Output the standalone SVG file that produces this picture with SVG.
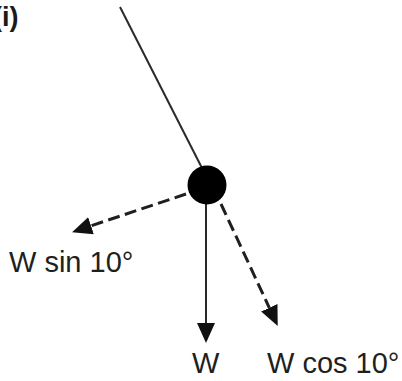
<svg xmlns="http://www.w3.org/2000/svg" width="402" height="381" viewBox="0 0 402 381">
  <style>
    .lbl { font-family: "Liberation Sans", Arial, sans-serif; font-size: 29px; fill: #1f1f1f; }
    .title { font-family: "Liberation Sans", Arial, sans-serif; font-size: 27px; font-weight: bold; fill: #1a1a1a; }
    .solid { stroke: #2a2a2a; stroke-width: 2; fill: none; }
    .dashed { stroke: #1f1f1f; stroke-width: 3; fill: none; stroke-dasharray: 12 5.5; }
  </style>
  <defs>
    <marker id="arrow" viewBox="0 0 20 18" refX="0" refY="9" markerWidth="20" markerHeight="18" markerUnits="userSpaceOnUse" orient="auto">
      <path d="M0,0 L20,9 L0,18 Z" fill="#111"/>
    </marker>
  </defs>
  <rect width="402" height="381" fill="#ffffff"/>
  <text class="title" x="-7" y="26">(i)</text>
  <g id="connectors">
    <line id="string" class="solid" x1="120" y1="7" x2="204" y2="172"/>
    <line id="w" class="solid" x1="206" y1="200" x2="206" y2="323" marker-end="url(#arrow)"/>
    <line id="w-sin" class="dashed" x1="186" y1="194" x2="91" y2="225.8" marker-end="url(#arrow)"/>
    <line id="w-cos" class="dashed" x1="221" y1="204" x2="269.3" y2="307.8" marker-end="url(#arrow)"/>
  </g>
  <g id="bob">
    <circle cx="207" cy="185" r="19.5" fill="#000"/>
  </g>
  <g id="label-wsin"><text class="lbl" x="9" y="272">W sin 10°</text></g>
  <g id="label-w"><text class="lbl" x="192" y="373">W</text></g>
  <g id="label-wcos"><text class="lbl" x="267" y="373">W cos 10°</text></g>
</svg>
